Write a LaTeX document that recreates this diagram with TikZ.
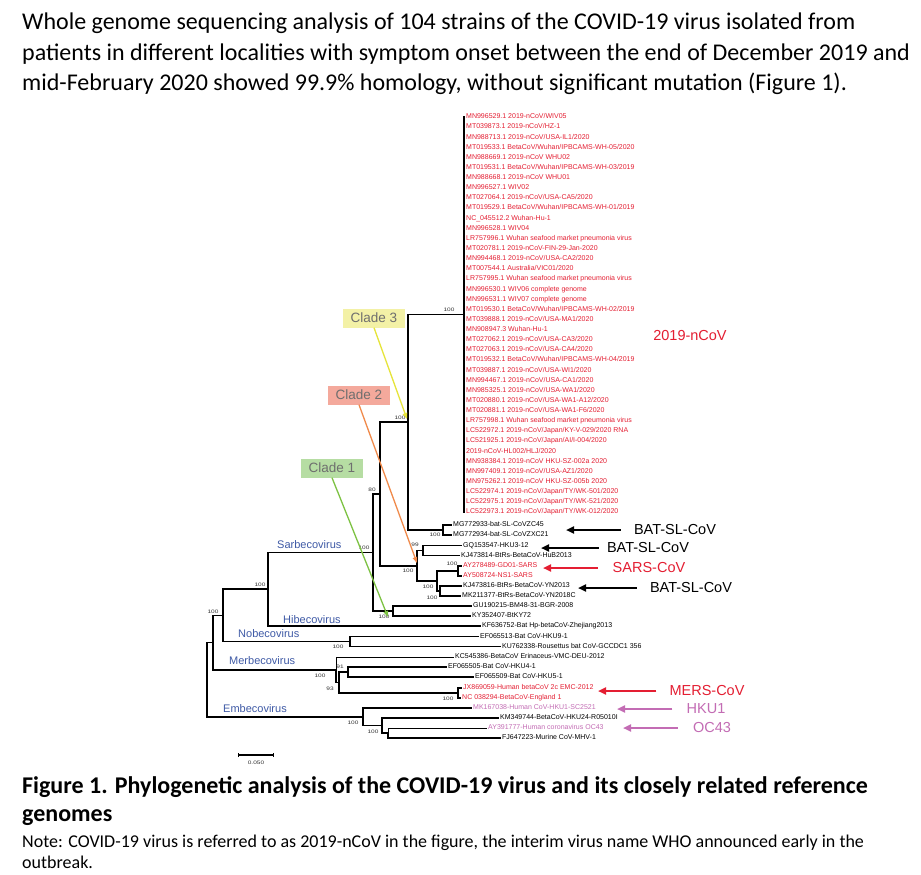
\documentclass[tikz,border=0pt]{standalone}
\usepackage{fontspec}
\setmainfont{Carlito}
\newfontfamily\arialf{Liberation Sans}
\usetikzlibrary{arrows.meta}
\definecolor{leafred}{HTML}{E41E32}
\definecolor{pinkc}{HTML}{C36CB4}
\definecolor{grpblue}{HTML}{3F5AA6}
\definecolor{cthree}{HTML}{F3F1A6}
\definecolor{ctwo}{HTML}{F4A99C}
\definecolor{cone}{HTML}{B6DDA3}
\definecolor{athree}{HTML}{E6E43A}
\definecolor{atwo}{HTML}{F08A4B}
\definecolor{aone}{HTML}{7DC243}
\definecolor{cladetext}{HTML}{6E6E6E}
\newcommand{\bsv}[1]{\scalebox{1.3}[1]{#1}}
\begin{document}
\begin{tikzpicture}[x=1pt,y=-1pt,
  br/.style={line width=1.6pt,black},
  thinbr/.style={line width=0.8pt,black},
  lf/.style={anchor=west,inner xsep=1pt,inner ysep=0pt,text height=5pt,text depth=1.4pt,font=\arialf\fontsize{7}{8}\selectfont},
  bsl/.style={inner sep=0pt,text=black!80,font=\arialf\fontsize{5}{6}\selectfont},
  grp/.style={anchor=west,inner sep=0pt,text=grpblue,font=\arialf\fontsize{11}{12}\selectfont},
  ann/.style={inner sep=0pt,font=\arialf\fontsize{14.5}{16}\selectfont},
  annarr/.style={line width=2pt,-{Triangle[length=8pt,width=7pt]}},
  cladebox/.style={inner sep=0pt,minimum width=62pt,minimum height=19pt,text=cladetext,font=\arialf\fontsize{13.5}{14}\selectfont},
  cladearr/.style={line width=1.3pt,-{Triangle[length=6pt,width=4.5pt]}},
  hdr/.style={anchor=base west,inner sep=0pt,font=\fontsize{24}{28}\selectfont},
  captxt/.style={anchor=base west,inner sep=0pt,font=\bfseries\fontsize{24}{28}\selectfont},
  notetxt/.style={anchor=base west,inner sep=0pt,font=\fontsize{18}{21}\selectfont}
]
\useasboundingbox[fill=white] (0,0) rectangle (921,875);

% header
\node[hdr] (h1) at (22,30) {Whole genome sequencing analysis of 104 strains of the COVID-19 virus isolated from};
\node[hdr] (h2) at (22,60) {patients in different localities with symptom onset between the end of December 2019 and};
\node[hdr] (h3) at (22,90) {mid-February 2020 showed 99.9\% homology, without significant mutation (Figure 1).};

% internal node coordinates
\coordinate (C) at (464,314.5);
\coordinate (MG) at (443,530);
\coordinate (N408) at (408,422.25);
\coordinate (G) at (423,550.5);
\coordinate (S2) at (458,571);
\coordinate (Y) at (440,591);
\coordinate (SY) at (437,581);
\coordinate (Q) at (417,565.75);
\coordinate (N380) at (380,493.9);
\coordinate (GK) at (393,611);
\coordinate (Sb) at (373,552.5);
\coordinate (Snode) at (268,589.25);
\coordinate (No) at (350,641.5);
\coordinate (N) at (223,615.4);
\coordinate (M3) at (348,672);
\coordinate (M4) at (458,693);
\coordinate (M2) at (339,682.5);
\coordinate (M1) at (336,669.75);
\coordinate (M) at (213,642.6);
\coordinate (E3) at (388,733);
\coordinate (E2) at (382,725.5);
\coordinate (E1) at (363,716.75);
\coordinate (R) at (207,679.7);

% 2019-nCoV clade leaves
\foreach \t [count=\i] in {
MN996529.1 2019-nCoV/WIV05,
MT039873.1 2019-nCoV/HZ-1,
MN988713.1 2019-nCoV/USA-IL1/2020,
MT019533.1 BetaCoV/Wuhan/IPBCAMS-WH-05/2020,
MN988669.1 2019-nCoV WHU02,
MT019531.1 BetaCoV/Wuhan/IPBCAMS-WH-03/2019,
MN988668.1 2019-nCoV WHU01,
MN996527.1 WIV02,
MT027064.1 2019-nCoV/USA-CA5/2020,
MT019529.1 BetaCoV/Wuhan/IPBCAMS-WH-01/2019,
NC\_045512.2 Wuhan-Hu-1,
MN996528.1 WIV04,
LR757996.1 Wuhan seafood market pneumonia virus,
MT020781.1 2019-nCoV-FIN-29-Jan-2020,
MN994468.1 2019-nCoV/USA-CA2/2020,
MT007544.1 Australia/VIC01/2020,
LR757995.1 Wuhan seafood market pneumonia virus,
MN996530.1 WIV06 complete genome,
MN996531.1 WIV07 complete genome,
MT019530.1 BetaCoV/Wuhan/IPBCAMS-WH-02/2019,
MT039888.1 2019-nCoV/USA-MA1/2020,
MN908947.3 Wuhan-Hu-1,
MT027062.1 2019-nCoV/USA-CA3/2020,
MT027063.1 2019-nCoV/USA-CA4/2020,
MT019532.1 BetaCoV/Wuhan/IPBCAMS-WH-04/2019,
MT039887.1 2019-nCoV/USA-WI1/2020,
MN994467.1 2019-nCoV/USA-CA1/2020,
MN985325.1 2019-nCoV/USA-WA1/2020,
MT020880.1 2019-nCoV/USA-WA1-A12/2020,
MT020881.1 2019-nCoV/USA-WA1-F6/2020,
LR757998.1 Wuhan seafood market pneumonia virus,
LC522972.1 2019-nCoV/Japan/KY-V-029/2020 RNA,
LC521925.1 2019-nCoV/Japan/AI/I-004/2020,
2019-nCoV-HL002/HLJ/2020,
MN938384.1 2019-nCoV HKU-SZ-002a 2020,
MN997409.1 2019-nCoV/USA-AZ1/2020,
MN975262.1 2019-nCoV HKU-SZ-005b 2020,
LC522974.1 2019-nCoV/Japan/TY/WK-501/2020,
LC522975.1 2019-nCoV/Japan/TY/WK-521/2020,
LC522973.1 2019-nCoV/Japan/TY/WK-012/2020}{
  \node[lf,text=leafred] (n\i) at (465,{117+(\i-1)*10.13}) {\t};
  \draw[br] (C) |- (n\i.west);
}

% other leaves
\node[lf] (mg1) at (452,525) {MG772933-bat-SL-CoVZC45};
\node[lf] (mg2) at (452,535) {MG772934-bat-SL-CoVZXC21};
\node[lf] (gq) at (462,545.5) {GQ153547-HKU3-12};
\node[lf] (kj1) at (460,555.5) {KJ473814-BtRs-BetaCoV-HuB2013};
\node[lf,text=leafred] (ay1) at (462,566) {AY278489-GD01-SARS};
\node[lf,text=leafred] (ay2) at (462,576) {AY508724-NS1-SARS};
\node[lf] (kj2) at (462,586) {KJ473816-BtRs-BetaCoV-YN2013};
\node[lf] (mk) at (461,596) {MK211377-BtRs-BetaCoV-YN2018C};
\node[lf] (gu) at (472,606) {GU190215-BM48-31-BGR-2008};
\node[lf] (ky) at (471,616) {KY352407-BtKY72};
\node[lf] (kf) at (481,626) {KF636752-Bat Hp-betaCoV-Zhejiang2013};
\node[lf] (ef13) at (479,636.5) {EF065513-Bat CoV-HKU9-1};
\node[lf] (ku) at (501,646.5) {KU762338-Rousettus bat CoV-GCCDC1 356};
\node[lf] (kc) at (454,657) {KC545386-BetaCoV Erinaceus-VMC-DEU-2012};
\node[lf] (ef05) at (447,667) {EF065505-Bat CoV-HKU4-1};
\node[lf] (ef09) at (474,677) {EF065509-Bat CoV-HKU5-1};
\node[lf,text=leafred] (jx) at (462,688) {JX869059-Human betaCoV 2c EMC-2012};
\node[lf,text=leafred] (nc) at (461,698) {NC 038294-BetaCoV-England 1};
\node[lf,text=pinkc] (mk2) at (472,708) {MK167038-Human CoV-HKU1-SC2521};
\node[lf] (km) at (499,718) {KM349744-BetaCoV-HKU24-R05010I};
\node[lf,text=pinkc] (ay3) at (487,728) {AY391777-Human coronavirus OC43};
\node[lf] (fj) at (501,738) {FJ647223-Murine CoV-MHV-1};

% branches
\draw[br] (MG) |- (mg1.west);
\draw[br] (MG) |- (mg2.west);
\draw[br] (N408) |- (C);
\draw[br] (N408) |- (MG);
\draw[br] (G) |- (gq.west);
\draw[br] (G) |- (kj1.west);
\draw[br] (S2) |- (ay1.west);
\draw[br] (S2) |- (ay2.west);
\draw[br] (Y) |- (kj2.west);
\draw[br] (Y) |- (mk.west);
\draw[br] (SY) |- (S2);
\draw[br] (SY) |- (Y);
\draw[br] (Q) |- (G);
\draw[br] (Q) |- (SY);
\draw[br] (N380) |- (N408);
\draw[br] (N380) |- (Q);
\draw[br] (GK) |- (gu.west);
\draw[br] (GK) |- (ky.west);
\draw[br] (Sb) |- (N380);
\draw[br] (Sb) |- (GK);
\draw[br] (Snode) |- (Sb);
\draw[br] (Snode) |- (kf.west);
\draw[br] (No) |- (ef13.west);
\draw[br] (No) |- (ku.west);
\draw[br] (N) |- (Snode);
\draw[br] (N) |- (No);
\draw[br] (M3) |- (ef05.west);
\draw[br] (M3) |- (ef09.west);
\draw[br] (M4) |- (jx.west);
\draw[br] (M4) |- (nc.west);
\draw[br] (M2) |- (M3);
\draw[br] (M2) |- (M4);
\draw[thinbr] (M1) |- (kc.west);
\draw[br] (M1) |- (M2);
\draw[br] (M) |- (N);
\draw[br] (M) |- (M1);
\draw[thinbr] (E3) |- (ay3.west);
\draw[br] (E3) |- (fj.west);
\draw[br] (E2) |- (km.west);
\draw[br] (E2) |- (E3);
\draw[br] (E1) |- (mk2.west);
\draw[br] (E1) |- (E2);
\draw[br] (R) |- (M);
\draw[br] (R) |- (E1);

% bootstrap values
\node[bsl] (b1) at (449,310) {\bsv{100}};
\node[bsl] (b2) at (400,418) {\bsv{100}};
\node[bsl] (b3) at (372,490) {\bsv{80}};
\node[bsl] (b4) at (364,548) {\bsv{100}};
\node[bsl] (b5) at (415,545) {\bsv{99}};
\node[bsl] (b6) at (408,571) {\bsv{100}};
\node[bsl] (b7) at (452,564) {\bsv{100}};
\node[bsl] (b8) at (428,587) {\bsv{100}};
\node[bsl] (b9) at (432,598) {\bsv{100}};
\node[bsl] (b10) at (435,535) {\bsv{100}};
\node[bsl] (b11) at (384,617) {\bsv{100}};
\node[bsl] (b12) at (260,585) {\bsv{100}};
\node[bsl] (b13) at (213,612) {\bsv{100}};
\node[bsl] (b14) at (338,647) {\bsv{100}};
\node[bsl] (b15) at (320,676) {\bsv{100}};
\node[bsl] (b16) at (340,667) {\bsv{91}};
\node[bsl] (b17) at (330,689) {\bsv{93}};
\node[bsl] (b18) at (448,699) {\bsv{100}};
\node[bsl] (b19) at (353,723) {\bsv{100}};
\node[bsl] (b20) at (373,732) {\bsv{100}};

% genus labels
\node[grp] (g1) at (277,545) {Sarbecovirus};
\node[grp] (g2) at (283,620) {Hibecovirus};
\node[grp] (g3) at (238,634) {Nobecovirus};
\node[grp] (g4) at (229,661) {Merbecovirus};
\node[grp] (g5) at (223,709) {Embecovirus};

% clade boxes
\node[cladebox,fill=cthree] (cl3) at (374,318) {Clade 3};
\node[cladebox,fill=ctwo] (cl2) at (359,395) {Clade 2};
\node[cladebox,fill=cone] (cl1) at (332,468) {Clade 1};
\coordinate (t3) at (407,419);
\coordinate (t2) at (417,563);
\coordinate (t1) at (388,617);
\draw[cladearr,athree] (cl3.south) -- (t3);
\draw[cladearr,atwo] (cl2.south) -- (t2);
\draw[cladearr,aone] (cl1.south) -- (t1);

% right annotations
\node[ann,text=leafred] (ncov) at (690,336) {2019-nCoV};
\node[ann] (bat1) at (675,530) {BAT-SL-CoV};
\node[ann] (bat2) at (648,548) {BAT-SL-CoV};
\node[ann,text=leafred] (sars) at (649,568) {SARS-CoV};
\node[ann] (bat3) at (691,588) {BAT-SL-CoV};
\node[ann,text=leafred] (mers) at (707,691) {MERS-CoV};
\node[ann,text=pinkc] (hku) at (706,709) {HKU1};
\node[ann,text=pinkc] (oc) at (712,728) {OC43};
\coordinate (p1) at (566,530);
\coordinate (p2) at (541,548);
\coordinate (p3) at (543,568);
\coordinate (p4) at (578,588);
\coordinate (p5) at (598,691);
\coordinate (p6) at (617,709);
\coordinate (p7) at (623,728);
\draw[annarr] ([xshift=-13pt]bat1.west) -- (p1);
\draw[annarr] ([xshift=-8pt]bat2.west) -- (p2);
\draw[annarr,leafred] ([xshift=-15pt]sars.west) -- (p3);
\draw[annarr] ([xshift=-13pt]bat3.west) -- (p4);
\draw[annarr,leafred] ([xshift=-13pt]mers.west) -- (p5);
\draw[annarr,pinkc] ([xshift=-14pt]hku.west) -- (p6);
\draw[annarr,pinkc] ([xshift=-15pt]oc.west) -- (p7);

% scale bar
\coordinate (sb1) at (238,755);
\coordinate (sb2) at (274,755);
\draw[line width=1.1pt,{Bar[width=4pt]}-{Bar[width=4pt]}] (sb1) -- (sb2);
\node[bsl] (sbl) at (256,763) {\bsv{0.050}};

% caption
\node[captxt] (c1) at (22,793) {Figure 1. Phylogenetic analysis of the COVID-19 virus and its closely related reference};
\node[captxt] (c2) at (22,821) {genomes};
\node[notetxt] (nt1) at (22,847) {Note: COVID-19 virus is referred to as 2019-nCoV in the figure, the interim virus name WHO announced early in the};
\node[notetxt] (nt2) at (22,868) {outbreak.};
\end{tikzpicture}
\end{document}
